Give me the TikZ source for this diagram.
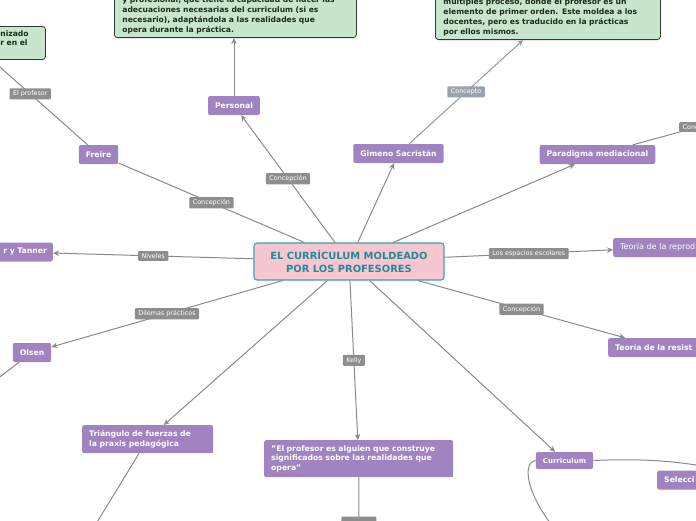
\documentclass[tikz,border=0pt]{standalone}
\usepackage{fontspec}
\setmainfont{DejaVu Sans}
\usetikzlibrary{arrows.meta,positioning}
\definecolor{topicpurple}{HTML}{A083BF}
\definecolor{notegreen}{HTML}{C7E6CD}
\definecolor{noteborder}{HTML}{2E3B2E}
\definecolor{notetext}{HTML}{1D2A1D}
\definecolor{rootpink}{HTML}{F7C6D1}
\definecolor{rootteal}{HTML}{3AA3AB}
\definecolor{roottext}{HTML}{1E8C98}
\definecolor{tagfill}{HTML}{8E8E8E}
\definecolor{linkgray}{HTML}{8A8A8A}
\definecolor{bluegray}{HTML}{8E9BA7}
\definecolor{bluetag}{HTML}{9AA3AD}

\begin{document}
\begin{tikzpicture}[x=1pt,y=-1pt,
  root/.style={draw=rootteal,line width=1.1pt,fill=rootpink,text=roottext,rounded corners=3pt,
    font=\bfseries\fontsize{9.9}{13}\selectfont,align=center,minimum width=190pt,minimum height=37pt},
  topic/.style={fill=topicpurple,text=white,rounded corners=2pt,
    font=\bfseries\fontsize{7.7}{9.5}\selectfont,minimum height=19pt,inner xsep=7pt,inner ysep=3pt},
  note/.style={draw=noteborder,line width=0.8pt,fill=notegreen,text=notetext,rounded corners=3pt,
    font=\bfseries\fontsize{7.6}{9.7}\selectfont,align=left,inner xsep=8pt,inner ysep=4pt},
  tag/.style={fill=tagfill,text=white,rounded corners=1pt,font=\fontsize{6.4}{7}\selectfont,
    inner xsep=3.5pt,inner ysep=2.4pt},
  link/.style={draw=linkgray,line width=1pt,-{Stealth[length=6pt,width=5.5pt]}},
  plainlink/.style={draw=linkgray,line width=1pt}]
\useasboundingbox (0,0) rectangle (696,520);
\clip (0,0) rectangle (696,520);

% central topic
\node[root] (root) at (349,261.5) {EL CURRÍCULUM MOLDEADO\\POR LOS PROFESORES};

% notes (green)
\node[note,anchor=north west,text width=37pt] (noteleft) at (-8,26) {nizado\\r en el\\\mbox{}};
\node[note,anchor=south west,text width=226pt] (notemid) at (114,38)
  {y profesional, que tiene la capacidad de hacer las\\adecuaciones necesarias del curriculum (si es\\necesario), adaptándola a las realidades que\\opera durante la práctica.};
\node[note,anchor=south west,text width=209pt] (noteright) at (435,40)
  {multiples proceso, donde el profesor es un\\elemento de primer orden. Este moldea a los\\docentes, pero es traducido en la prácticas\\por ellos mismos.};

% topics
\node[topic] (personal) at (234,105.5) {Personal};
\node[topic] (freire) at (98.5,154.5) {Freire};
\node[topic,anchor=east,text width=60pt,align=right,inner xsep=6pt] (tanner) at (53,252) {r y Tanner};
\node[topic] (gimeno) at (398.5,153.5) {Gimeno Sacristán};
\node[topic] (paradigma) at (597.5,154.5) {Paradigma mediacional};
\node[topic,anchor=west,text width=90pt,align=left,font=\fontsize{8}{9.5}\selectfont] (reprod) at (613,247.5) {Teoría de la reprod};
\node[topic,anchor=west,text width=90pt,align=left] (resist) at (608,347.5) {Teoría de la resist};
\node[topic] (olsen) at (32,352.5) {Olsen};
\node[topic,anchor=north west,text width=117pt,align=left,minimum height=28pt] (triangulo) at (82,425)
  {Triángulo de fuerzas de\\la praxis pedagógica};
\node[topic,anchor=north west,text width=175pt,align=left,minimum height=37pt] (quote) at (264,440)
  {"El profesor es alguien que construye\\significados sobre las realidades que\\opera"};
\node[topic,font=\bfseries\fontsize{7}{8.5}\selectfont,minimum height=17pt] (curriculum) at (564.5,460.5) {Curriculum};
\node[topic,anchor=west,text width=50pt,align=left] (seleccion) at (657,480) {Selecci};

% loose ends
\coordinate (paraout) at (760,110);
\coordinate (olsenout) at (-20,392);
\coordinate (triout) at (80,550);
\coordinate (quoteout) at (359,560);
\coordinate (seleout) at (730,472);
\coordinate (curdown) at (560,535);

% connectors
\draw[link] (root) -- node[tag]{Concepción} (personal);
\draw[link] (personal.north) -- (personal.north |- notemid.south);
\draw[plainlink] (root) -- node[tag]{Concepción} (freire);
\draw[link] (freire) -- node[tag,pos=0.6]{El profesor} (noteleft.south west);
\draw[link] (root) -- node[tag]{Niveles} (tanner);
\draw[link] (root) -- (gimeno);
\draw[link,draw=bluegray] (gimeno) -- node[tag,fill=bluetag]{Concepto} (noteright);
\draw[link] (root) -- (paradigma);
\draw[plainlink] (paradigma) -- (paraout);
\node[tag,anchor=west] (conctag) at (679,127) {Conc};
\draw[link] (root) -- node[tag]{Los espacios escolares} (reprod);
\draw[link] (root) -- node[tag]{Concepción} (resist);
\draw[link] (root) -- node[tag]{Dilemas prácticos} (olsen);
\draw[plainlink] (olsen) -- (olsenout);
\draw[link] (root) -- (triangulo);
\draw[plainlink] (triangulo) -- (triout);
\draw[link] (root) -- node[tag]{Kelly} (quote);
\draw[plainlink] (quote) -- node[tag,pos=0.54,minimum width=35pt,minimum height=11pt]{} (quoteout);
\draw[link] (root) -- (curriculum);
\draw[plainlink] (curriculum.east) .. controls (650,458) and (690,462) .. (seleout);
\draw[plainlink] (curriculum.west) .. controls (522,462) and (525,495) .. (curdown);
\end{tikzpicture}
\end{document}
